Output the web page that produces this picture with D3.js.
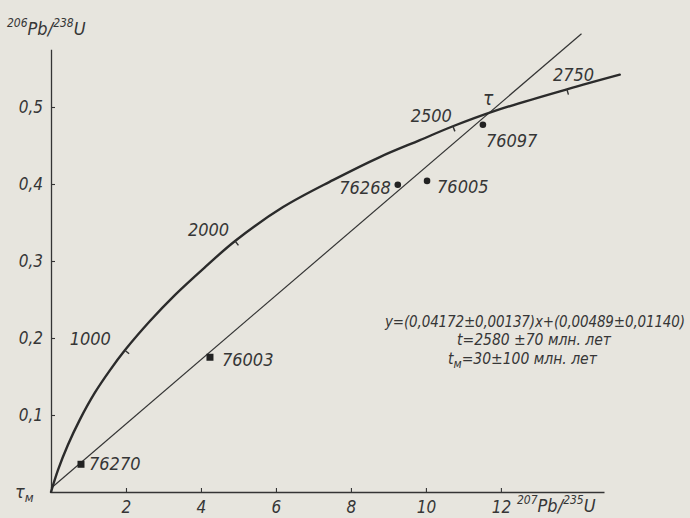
<!DOCTYPE html>
<html>
<head>
<meta charset="utf-8">
<script src="https://cdn.jsdelivr.net/npm/d3@7/dist/d3.min.js"></script>
<style>
  html, body { margin: 0; padding: 0; background: #e7e5de; }
  svg { display: block; }
  .lbl { font-family: "Liberation Sans Narrow", "DejaVu Sans Condensed", "Arial Narrow", sans-serif; font-style: italic; fill: #363636; }
</style>
</head>
<body>
<svg id="chart" width="690" height="518"></svg>
<script>
// Axis ticks
const xTicks = [2, 4, 6, 8, 10, 12];
const yTicks = [0.1, 0.2, 0.3, 0.4, 0.5];

// Concordia curve (207Pb/235U, 206Pb/238U) and age marks along it (Ma)
const concordiaX = [0, 0.19, 0.45, 0.77, 1.17, 1.57, 1.97, 2.64, 3.31, 4.11, 4.91, 6.19, 7.52, 8.77, 9.84, 10.72, 11.84, 13.76, 15.17];
const concordiaY = [0, 0.029, 0.061, 0.094, 0.129, 0.158, 0.184, 0.222, 0.256, 0.292, 0.326, 0.370, 0.405, 0.435, 0.457, 0.475, 0.495, 0.523, 0.542];
const concordiaAge = [null, null, null, null, null, null, 1000, null, null, null, 2000, null, null, null, null, 2500, null, 2750, null];

// Samples
const sampleId = ["76270", "76003", "76268", "76005", "76097"];
const sampleX = [0.80, 4.24, 9.25, 10.03, 11.52];
const sampleY = [0.036, 0.175, 0.399, 0.404, 0.477];
const sampleMark = ["square", "square", "circle", "circle", "circle"];

// Discordia regression y = a·x + b
const discSlope = 0.04172;
const discIntercept = 0.00489;
const discRange = [0, 14.15];

// Fit statistics
const eqText = "y=(0,04172±0,00137)x+(0,00489±0,01140)";
const ageText = "t=2580 ±70 млн. лет";
const lowerAge = "=30±100 млн. лет";

const svg = d3.select("#chart");
const ink = "#343434";

const x = d3.scaleLinear().domain([0, 14.75]).range([51, 604]);
const y = d3.scaleLinear().domain([0, 0.575]).range([492, 49.25]);

// Axes
const comma = d3.formatLocale({ decimal: ",", thousands: " ", grouping: [3], currency: ["", ""] });

const gx = svg.append("g").attr("transform", `translate(0,${y(0)})`)
  .call(d3.axisBottom(x).tickValues(xTicks).tickSize(-4).tickSizeOuter(0).tickPadding(9).tickFormat(d3.format("d")));
const gy = svg.append("g").attr("transform", `translate(${x(0)},0)`)
  .call(d3.axisLeft(y).tickValues(yTicks).tickSize(-4).tickSizeOuter(0).tickPadding(8).tickFormat(comma.format(".1f")));

[gx, gy].forEach(g => {
  g.select(".domain").attr("stroke", ink).attr("stroke-width", 1.3);
  g.selectAll(".tick line").attr("stroke", ink).attr("stroke-width", 1.1);
  g.selectAll(".tick text").attr("class", "lbl").attr("font-size", 17).attr("fill", "#363636");
});
gx.selectAll(".tick text").attr("dy", "0.72em");

// Axis titles with isotope superscripts
function isoTitle(tx, ty, a, b) {
  const t = svg.append("text").attr("class", "lbl").attr("x", tx).attr("y", ty).attr("font-size", 18);
  t.append("tspan").attr("font-size", 12).attr("dy", -8).text(a);
  t.append("tspan").attr("dy", 8).text("Pb/");
  t.append("tspan").attr("font-size", 12).attr("dy", -8).text(b);
  t.append("tspan").attr("dy", 8).text("U");
}
isoTitle(7, 35, "206", "238");
isoTitle(517, 512, "207", "235");

// Origin label
const om = svg.append("text").attr("class", "lbl").attr("x", x(0) - 36).attr("y", y(0) + 6).attr("font-size", 18);
om.append("tspan").text("τ");
om.append("tspan").attr("font-size", 13).attr("dy", 4).text("м");

// Discordia
svg.append("line")
  .attr("x1", x(discRange[0])).attr("y1", y(discSlope * discRange[0] + discIntercept))
  .attr("x2", x(discRange[1])).attr("y2", y(discSlope * discRange[1] + discIntercept))
  .attr("stroke", ink).attr("stroke-width", 1.2);

// Concordia
const conc = concordiaX.map((v, i) => [v, concordiaY[i], concordiaAge[i]]);
svg.append("path")
  .attr("d", d3.line().x(d => x(d[0])).y(d => y(d[1])).curve(d3.curveCatmullRom.alpha(0.5))(conc))
  .attr("fill", "none").attr("stroke", "#2b2b2b").attr("stroke-width", 2.4).attr("stroke-linecap", "round");

// Age ticks, perpendicular to the curve on its lower side
const ageLabelPos = { 1000: [-14, -5, "end"], 2000: [-6, -5, "end"], 2500: [-1, -4, "end"], 2750: [-14, -8, "start"] };
conc.forEach((d, i) => {
  if (d[2] == null) return;
  const p0 = conc[i - 1], p1 = conc[i + 1];
  const dx = x(p1[0]) - x(p0[0]), dy = y(p1[1]) - y(p0[1]);
  const len = Math.hypot(dx, dy);
  const nx = -dy / len, ny = dx / len;
  const cx = x(d[0]), cy = y(d[1]);
  svg.append("line").attr("x1", cx).attr("y1", cy).attr("x2", cx + nx * 5.5).attr("y2", cy + ny * 5.5)
    .attr("stroke", ink).attr("stroke-width", 1.4);
  const o = ageLabelPos[d[2]];
  svg.append("text").attr("class", "lbl").attr("font-size", 18)
    .attr("x", cx + o[0]).attr("y", cy + o[1]).attr("text-anchor", o[2]).text(d[2]);
});

// Intersection mark
const tX = 11.84;
svg.append("text").attr("class", "lbl").attr("font-size", 19)
  .attr("x", x(tX) - 12).attr("y", y(discSlope * tX + discIntercept) - 3).text("τ");

// Samples
const labelPos = { "76270": [8, 6, "start"], "76003": [12, 9, "start"], "76268": [-7, 9, "end"], "76005": [10, 12, "start"], "76097": [3, 22, "start"] };
sampleId.forEach((id, i) => {
  const cx = x(sampleX[i]), cy = y(sampleY[i]);
  if (sampleMark[i] === "square") {
    svg.append("rect").attr("x", cx - 3.5).attr("y", cy - 3.5).attr("width", 7).attr("height", 7).attr("fill", "#222");
  } else {
    svg.append("circle").attr("cx", cx).attr("cy", cy).attr("r", 3.3).attr("fill", "#222");
  }
  const o = labelPos[id];
  svg.append("text").attr("class", "lbl").attr("font-size", 18)
    .attr("x", cx + o[0]).attr("y", cy + o[1]).attr("text-anchor", o[2]).text(id);
});

// Fit statistics block
svg.append("text").attr("class", "lbl").attr("font-size", 15)
  .attr("x", 385).attr("y", 327).attr("textLength", 300).attr("lengthAdjust", "spacing").text(eqText);
svg.append("text").attr("class", "lbl").attr("font-size", 15.5)
  .attr("x", 457).attr("y", 345).text(ageText);
const lt = svg.append("text").attr("class", "lbl").attr("font-size", 15.5).attr("x", 448).attr("y", 364);
lt.append("tspan").text("t");
lt.append("tspan").attr("font-size", 12).attr("dy", 4).text("м");
lt.append("tspan").attr("dy", -4).text(lowerAge);
</script>
</body>
</html>
